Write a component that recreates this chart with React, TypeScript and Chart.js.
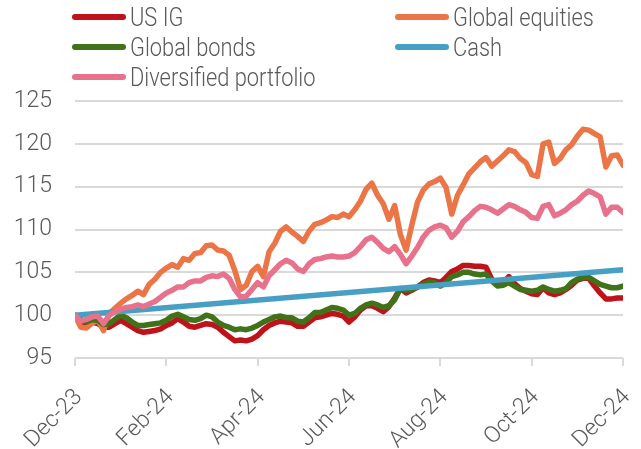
import React, { useEffect, useRef } from 'react';
import { Chart, registerables } from 'chart.js';

Chart.register(...registerables);

// ---- data ----
const X_TICK_LABELS = ['Dec-23', 'Feb-24', 'Apr-24', 'Jun-24', 'Aug-24', 'Oct-24', 'Dec-24'];
const X_TICK_STEP = 16; // observations between labelled ticks
const X_LAST = 96; // index of last observation

const US_IG = [
  100.0, 99.2, 98.9, 99.2, 99.0, 98.6, 98.6, 99.0, 99.4, 99.0,
  98.6, 98.2, 98.0, 98.1, 98.2, 98.4, 98.8, 99.1, 99.6, 99.2,
  98.7, 98.6, 98.8, 99.0, 98.9, 98.6, 98.0, 97.5, 97.0, 97.1,
  97.0, 97.2, 97.6, 98.3, 98.8, 99.1, 99.3, 99.2, 99.1, 98.7,
  98.7, 99.2, 99.7, 99.8, 100.0, 100.2, 100.1, 99.9, 99.2, 99.8,
  100.6, 101.1, 101.1, 100.8, 100.4, 101.0, 102.0, 103.1, 102.6, 102.9,
  103.3, 103.8, 104.1, 104.0, 103.8, 104.4, 105.1, 105.4, 105.8, 105.8,
  105.7, 105.7, 105.6, 104.2, 103.6, 103.8, 104.5, 103.7, 103.1, 102.8,
  102.5, 102.4, 103.2, 102.6, 102.4, 102.6, 103.0, 103.5, 104.1, 104.3,
  104.3, 103.4, 102.6, 101.9, 101.9, 102.0, 102.0,
];

const GLOBAL_EQUITIES = [
  100.0, 98.6, 98.5, 99.1, 99.4, 98.2, 100.2, 100.8, 101.4, 101.9,
  102.3, 102.8, 102.4, 103.6, 104.2, 105.0, 105.5, 105.9, 105.6, 106.6,
  106.4, 107.2, 107.3, 108.1, 108.2, 107.6, 107.5, 107.0, 105.2, 103.0,
  103.5, 105.1, 105.7, 104.5, 107.4, 108.4, 109.8, 110.3, 109.7, 109.2,
  108.6, 109.8, 110.6, 110.8, 111.1, 111.5, 111.4, 111.8, 111.5, 112.3,
  113.3, 114.7, 115.4, 114.0, 113.0, 111.2, 112.8, 109.4, 107.6, 110.5,
  113.2, 114.6, 115.3, 115.6, 116.0, 114.9, 111.8, 114.0, 115.2, 116.5,
  117.2, 117.9, 118.4, 117.4, 118.0, 118.6, 119.3, 119.1, 118.3, 117.8,
  116.4, 116.2, 120.0, 120.2, 117.7, 118.3, 119.3, 119.9, 120.9, 121.7,
  121.6, 121.2, 120.8, 117.3, 118.6, 118.7, 117.5,
];

const GLOBAL_BONDS = [
  100.0, 99.5, 99.2, 99.5, 99.4, 98.9, 99.0, 99.5, 100.0, 99.7,
  99.2, 98.8, 98.8, 98.9, 99.0, 99.1, 99.4, 99.9, 100.1, 99.8,
  99.5, 99.4, 99.6, 100.0, 99.8, 99.2, 98.8, 98.6, 98.3, 98.4,
  98.3, 98.5, 98.8, 99.2, 99.5, 99.8, 99.9, 99.7, 99.7, 99.3,
  99.2, 99.7, 100.3, 100.3, 100.6, 100.9, 100.8, 100.6, 100.0, 100.2,
  100.8, 101.2, 101.4, 101.2, 100.9, 101.1, 101.8, 103.1, 102.9, 103.0,
  103.3, 103.6, 103.9, 103.8, 103.4, 103.8, 104.5, 104.7, 105.0, 105.0,
  104.8, 104.7, 104.8, 104.0, 103.4, 103.5, 103.8, 103.4, 103.0, 102.9,
  102.8, 102.9, 103.3, 103.0, 102.8, 102.9, 103.1, 103.8, 104.2, 104.4,
  104.4, 104.0, 103.6, 103.4, 103.2, 103.2, 103.4,
];

const CASH_INDEX = [0, 96];
const CASH = [100.0, 105.3];

const DIVERSIFIED = [
  100.0, 99.3, 99.5, 99.8, 99.9, 99.0, 100.0, 100.4, 100.7, 100.9,
  101.0, 101.2, 101.0, 101.3, 101.6, 102.1, 102.6, 102.9, 103.3, 103.3,
  103.8, 104.0, 104.0, 104.4, 104.6, 104.5, 104.8, 104.3, 103.0, 102.1,
  102.2, 103.0, 103.8, 103.3, 104.6, 105.3, 106.0, 106.4, 106.1, 105.4,
  105.1, 106.0, 106.5, 106.6, 106.8, 106.9, 106.8, 106.8, 106.9, 107.3,
  108.0, 108.8, 109.1, 108.5, 107.8, 107.4, 108.0, 107.1, 106.0, 106.9,
  107.9, 109.1, 109.9, 110.3, 110.5, 110.2, 109.1, 109.8, 110.9, 111.5,
  112.2, 112.7, 112.6, 112.3, 111.9, 112.4, 112.9, 112.7, 112.3, 112.0,
  111.4, 111.3, 112.7, 112.9, 111.6, 111.9, 112.3, 112.9, 113.3, 114.0,
  114.5, 114.2, 113.8, 111.8, 112.6, 112.6, 112.0,
];

const Y_MIN = 95;
const Y_MAX = 125;
const Y_STEP = 5;

// ---- styles ----
const COLORS = {
  usIg: '#C0121A',
  equities: '#EC7548',
  bonds: '#3F7219',
  cash: '#47A0C4',
  diversified: '#E8718B',
};
const TEXT_COLOR = '#595959';
const GRID_COLOR = '#d9d9d9';
const FONT_FAMILY = 'Roboto, "Liberation Sans", sans-serif';
const AXIS_FONT_SIZE = 23;
const LEGEND_FONT_SIZE = 26;
const FONT_WEIGHT = 300;

const LEGEND = [
  { label: 'US IG', color: COLORS.usIg, col: 0, row: 0 },
  { label: 'Global equities', color: COLORS.equities, col: 1, row: 0 },
  { label: 'Global bonds', color: COLORS.bonds, col: 0, row: 1 },
  { label: 'Cash', color: COLORS.cash, col: 1, row: 1 },
  { label: 'Diversified portfolio', color: COLORS.diversified, col: 0, row: 2 },
];

const toPoints = (arr: number[]) => arr.map((y, i) => ({ x: i, y }));

export default function App() {
  const canvasRef = useRef<HTMLCanvasElement | null>(null);

  useEffect(() => {
    const canvas = canvasRef.current;
    if (!canvas) return;
    const line = (label: string, data: any[], color: string, order: number) => ({
      label,
      data,
      borderColor: color,
      backgroundColor: color,
      borderWidth: 5.5,
      pointRadius: 0,
      tension: 0,
      borderJoinStyle: 'round' as const,
      borderCapStyle: 'round' as const,
      fill: false,
      order,
    });
    const chart = new Chart(canvas, {
      type: 'line',
      data: {
        datasets: [
          line('US IG', toPoints(US_IG), COLORS.usIg, 4),
          line('Global equities', toPoints(GLOBAL_EQUITIES), COLORS.equities, 3),
          line('Global bonds', toPoints(GLOBAL_BONDS), COLORS.bonds, 2),
          line('Cash', CASH.map((y, i) => ({ x: CASH_INDEX[i], y })), COLORS.cash, 1),
          line('Diversified portfolio', toPoints(DIVERSIFIED), COLORS.diversified, 0),
        ],
      },
      options: {
        responsive: false,
        animation: false,
        devicePixelRatio: 1,
        layout: { padding: { top: 101, right: 18, bottom: 0, left: 0 } },
        plugins: {
          legend: { display: false },
          tooltip: { enabled: false },
        },
        scales: {
          x: {
            type: 'linear',
            min: 0,
            max: X_LAST,
            afterFit: (s: any) => {
              s.height = 91;
              s.paddingLeft = 0;
              s.paddingRight = 0;
            },
            ticks: {
              stepSize: X_TICK_STEP,
              autoSkip: false,
              maxRotation: 45,
              minRotation: 45,
              color: TEXT_COLOR,
              font: { family: FONT_FAMILY, size: AXIS_FONT_SIZE, weight: FONT_WEIGHT as any },
              padding: 18,
              labelOffset: 4,
              callback: (v: any) => {
                const k = Math.round(Number(v) / X_TICK_STEP);
                return X_TICK_LABELS[k] ?? '';
              },
            },
            grid: {
              drawOnChartArea: false,
              drawTicks: true,
              tickLength: 8,
              color: GRID_COLOR,
              lineWidth: 2,
            },
            border: { display: false },
          },
          y: {
            type: 'linear',
            min: Y_MIN,
            max: Y_MAX,
            afterFit: (s: any) => {
              s.width = 75;
            },
            ticks: {
              stepSize: Y_STEP,
              color: TEXT_COLOR,
              font: { family: FONT_FAMILY, size: AXIS_FONT_SIZE, weight: FONT_WEIGHT as any },
              padding: 23,
            },
            grid: {
              color: GRID_COLOR,
              lineWidth: 2,
              drawTicks: false,
            },
            border: { display: false },
          },
        },
      },
    });
    return () => chart.destroy();
  }, []);

  return (
    <div
      style={{
        position: 'fixed',
        left: 0,
        top: 0,
        width: 641,
        height: 449,
        background: '#ffffff',
        fontFamily: FONT_FAMILY,
      }}
    >
      <canvas ref={canvasRef} width={641} height={449} style={{ width: 641, height: 449, display: 'block' }} />
      {LEGEND.map((item) => {
        const lineLeft = item.col === 0 ? 72 : 395;
        const textLeft = item.col === 0 ? 130 : 453;
        const cy = 17 + item.row * 30;
        return (
          <React.Fragment key={item.label}>
            <div
              style={{
                position: 'absolute',
                left: lineLeft,
                top: cy - 3,
                width: 54,
                height: 6,
                borderRadius: 3,
                background: item.color,
              }}
            />
            <div
              style={{
                position: 'absolute',
                left: textLeft,
                top: cy - 15,
                height: 30,
                lineHeight: '30px',
                fontSize: LEGEND_FONT_SIZE,
                fontWeight: FONT_WEIGHT,
                color: TEXT_COLOR,
                whiteSpace: 'nowrap',
                transform: 'scaleX(0.84)',
                transformOrigin: 'left center',
              }}
            >
              {item.label}
            </div>
          </React.Fragment>
        );
      })}
    </div>
  );
}
